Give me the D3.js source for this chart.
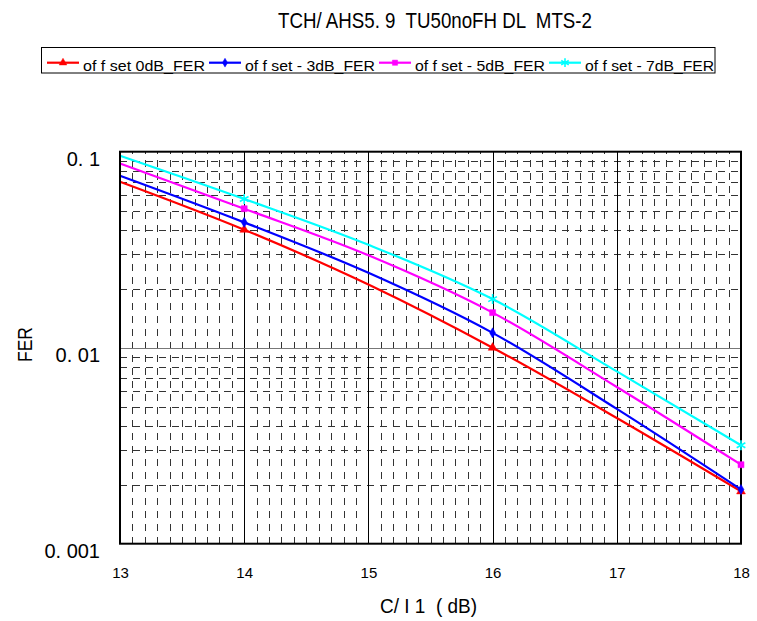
<!DOCTYPE html>
<html>
<head>
<meta charset="utf-8">
<script src="https://cdn.jsdelivr.net/npm/d3@7"></script>
<style>
  html, body { margin: 0; padding: 0; background: #fff; }
  svg { display: block; }
  text { font-family: "Liberation Sans", Arial, sans-serif; fill: #000; white-space: pre; }
</style>
</head>
<body>
<svg id="chart" width="757" height="621"></svg>
<script>
// ---- data ----
const titleText = "TCH/ AHS5. 9  TU50noFH DL  MTS-2";
const xTitle = "C/ I 1  ( dB)";
const yTitle = "FER";
const xValues = [13, 14, 15, 16, 17, 18];
const markerX = [14, 16, 18];
const seriesNames = ["of f set 0dB_FER", "of f set - 3dB_FER", "of f set - 5dB_FER", "of f set - 7dB_FER"];
const fer0dB = [0.0703, 0.0400, 0.0210, 0.0100, 0.00438, 0.00185];
const fer3dB = [0.0754, 0.0436, 0.0241, 0.0119, 0.00487, 0.00189];
const fer5dB = [0.0870, 0.0512, 0.0296, 0.0151, 0.00630, 0.00253];
const fer7dB = [0.0954, 0.0574, 0.0335, 0.0177, 0.00757, 0.00318];
const xTickValues = [13, 14, 15, 16, 17, 18];
const yTickValues = [0.1, 0.01, 0.001];
const yTickLabels = ["0. 1", "0. 01", "0. 001"];

// ---- layout / style ----
const colors = ["#ff0000", "#0000ff", "#ff00ff", "#00ffff"];
const symbols = [d3.symbolTriangle, d3.symbolDiamond, d3.symbolSquare, d3.symbolAsterisk];
const symbolSizes = [34, 30, 36, 70];
const legendTextWidths = [122, 130, 130, 129];
const plot = { left: 120, right: 741, top: 151.7, bottom: 543.7 };

const svg = d3.select("#chart");

const x = d3.scaleLinear().domain([13, 18]).range([plot.left, plot.right]);
const y = d3.scaleLog().domain([0.001, 0.1]).range([plot.bottom, plot.top]);

// ---- grid ----
const grid = svg.append("g").attr("shape-rendering", "crispEdges");
const minorX = d3.range(130, 180).map(v => v / 10).filter(v => Math.abs(v - Math.round(v)) > 1e-9);
grid.selectAll("line.mx").data(minorX).join("line")
  .attr("x1", d => Math.round(x(d)) + 0.5).attr("x2", d => Math.round(x(d)) + 0.5)
  .attr("y1", plot.bottom).attr("y2", plot.top)
  .attr("stroke", "#333").attr("stroke-width", 1).attr("stroke-dasharray", "7,6");
const minorY = [];
[0.001, 0.01].forEach(dec => { for (let k = 2; k <= 9; k++) minorY.push(dec * k); });
grid.selectAll("line.my").data(minorY).join("line")
  .attr("x1", plot.left).attr("x2", plot.right)
  .attr("y1", d => Math.round(y(d)) + 0.5).attr("y2", d => Math.round(y(d)) + 0.5)
  .attr("stroke", "#333").attr("stroke-width", 1).attr("stroke-dasharray", "7,6");
grid.selectAll("line.MX").data([14, 15, 16, 17]).join("line")
  .attr("x1", d => Math.round(x(d)) + 0.5).attr("x2", d => Math.round(x(d)) + 0.5)
  .attr("y1", plot.bottom).attr("y2", plot.top)
  .attr("stroke", "#000").attr("stroke-width", 1);
grid.selectAll("line.MY").data([0.01]).join("line")
  .attr("x1", plot.left).attr("x2", plot.right)
  .attr("y1", d => Math.round(y(d)) + 0.5).attr("y2", d => Math.round(y(d)) + 0.5)
  .attr("stroke", "#777").attr("stroke-width", 1);

// ---- series ----
const seriesValues = [fer0dB, fer3dB, fer5dB, fer7dB];
const series = seriesValues.map((vals, i) => ({
  name: seriesNames[i], color: colors[i], symbol: symbols[i], size: symbolSizes[i],
  points: xValues.map((xv, j) => ({ x: xv, y: vals[j] }))
}));
const line = d3.line().x(d => x(d.x)).y(d => y(d.y)).curve(d3.curveMonotoneX);
svg.append("g").selectAll("path").data(series).join("path")
  .attr("d", s => line(s.points))
  .attr("fill", "none").attr("stroke", s => s.color).attr("stroke-width", 2.2);

// ---- border ----
svg.append("rect")
  .attr("x", plot.left).attr("y", plot.top)
  .attr("width", plot.right - plot.left).attr("height", plot.bottom - plot.top)
  .attr("fill", "none").attr("stroke", "#000").attr("stroke-width", 2);

// ---- markers ----
function drawMarker(g, s, cx, cy, scale) {
  const isStroke = s.symbol === d3.symbolAsterisk;
  g.append("path")
    .attr("d", d3.symbol(s.symbol, s.size * scale)())
    .attr("transform", `translate(${cx},${cy})`)
    .attr("fill", isStroke ? "none" : s.color)
    .attr("stroke", s.color)
    .attr("stroke-width", isStroke ? 1.6 : 0.5);
}
const markerG = svg.append("g");
series.forEach(s => {
  s.points.filter(p => markerX.includes(p.x)).forEach(p => drawMarker(markerG, s, x(p.x), y(p.y), 1));
});

// ---- axes ----
const xAxis = svg.append("g").attr("transform", `translate(0,${plot.bottom})`)
  .call(d3.axisBottom(x).tickValues(xTickValues).tickSize(0).tickPadding(24).tickFormat(d3.format("d")));
xAxis.select(".domain").remove();
xAxis.selectAll("text").style("font-size", "15px").style("font-family", "'Liberation Sans', Arial, sans-serif");

const yAxis = svg.append("g").attr("transform", `translate(${plot.left},0)`)
  .call(d3.axisLeft(y).tickValues(yTickValues).tickSize(0).tickPadding(20)
    .tickFormat((d, i) => yTickLabels[i]));
yAxis.select(".domain").remove();
yAxis.selectAll("text").attr("dy", "0.675em").style("font-size", "20px").style("font-family", "'Liberation Sans', Arial, sans-serif");

// ---- titles ----
svg.append("text").attr("x", 278).attr("y", 28.3)
  .attr("textLength", 314).attr("lengthAdjust", "spacingAndGlyphs")
  .style("font-size", "22px").text(titleText);

svg.append("text").attr("x", 380).attr("y", 613)
  .attr("textLength", 97).attr("lengthAdjust", "spacingAndGlyphs")
  .style("font-size", "21px").text(xTitle);

svg.append("text").attr("transform", "translate(32,362) rotate(-90)")
  .attr("textLength", 35).attr("lengthAdjust", "spacingAndGlyphs")
  .style("font-size", "21px").text(yTitle);

// ---- legend ----
const legend = svg.append("g");
legend.append("rect").attr("x", 41.5).attr("y", 47.5).attr("width", 673.5).attr("height", 25.5)
  .attr("fill", "#fff").attr("stroke", "#000").attr("stroke-width", 1);
let lx = 47;
series.forEach((s, i) => {
  const ly = 62.7;
  legend.append("line").attr("x1", lx).attr("x2", lx + 32).attr("y1", ly).attr("y2", ly)
    .attr("stroke", s.color).attr("stroke-width", 2.2);
  drawMarker(legend, s, lx + 16, ly, 0.75);
  legend.append("text").attr("x", lx + 36).attr("y", 71)
    .attr("textLength", legendTextWidths[i]).attr("lengthAdjust", "spacingAndGlyphs")
    .style("font-size", "15px").text(s.name);
  lx += 36 + legendTextWidths[i] + 4;
});
</script>
</body>
</html>
